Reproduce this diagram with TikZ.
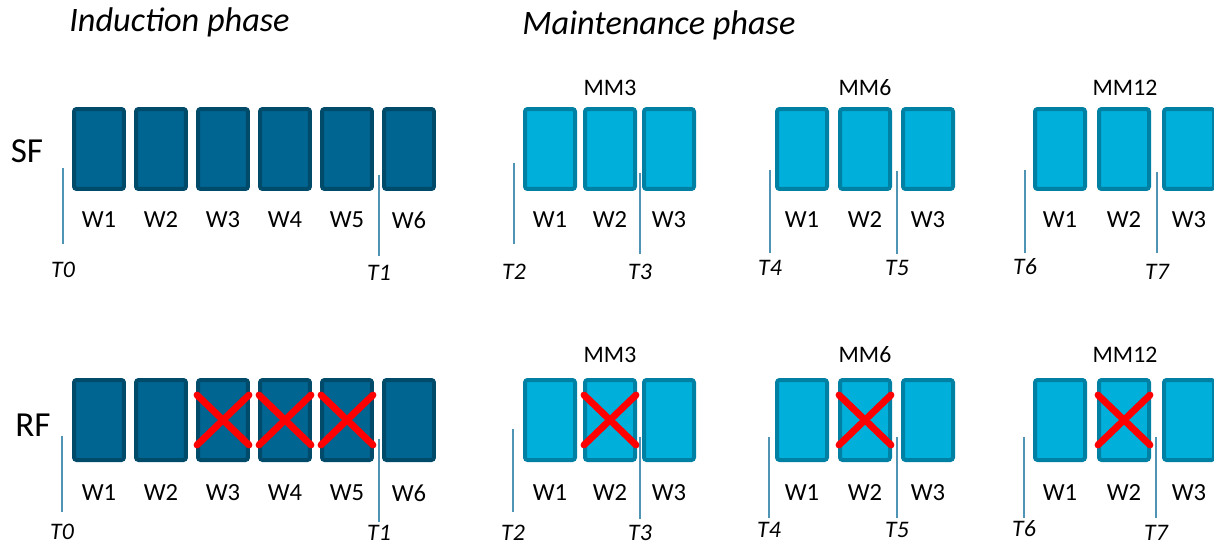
\documentclass[tikz,border=0pt]{standalone}
\usepackage{fontspec}
\setmainfont{Carlito}
\usetikzlibrary{calc}

\definecolor{induct}{RGB}{0,101,145}
\definecolor{inductedge}{RGB}{0,74,106}
\definecolor{maint}{RGB}{0,176,219}
\definecolor{maintedge}{RGB}{0,128,163}
\definecolor{tickline}{RGB}{79,147,181}

\tikzset{
  week/.style={rectangle, rounded corners=1.5pt, line width=0.08cm,
    minimum width=1.0cm, minimum height=1.6cm, inner sep=0pt},
  indweek/.style={week, fill=induct, draw=inductedge},
  mntweek/.style={week, fill=maint, draw=maintedge},
  phase/.style={font=\fontsize{19.5}{22}\selectfont\itshape, inner sep=0pt},
  group/.style={font=\fontsize{20}{22}\selectfont, inner sep=0pt},
  wlabel/.style={font=\fontsize{14}{16}\selectfont, inner sep=0pt},
  mmlabel/.style={font=\fontsize{13.5}{16}\selectfont, inner sep=0pt},
  tlabel/.style={font=\fontsize{13.5}{16}\selectfont\itshape, inner sep=0pt},
  tick/.style={draw=tickline, line width=0.85pt},
  cross/.style={draw=red, line width=3.9pt, line cap=round}
}

\begin{document}
\begin{tikzpicture}[x=0.02cm, y=-0.02cm]

  \useasboundingbox (0,0) rectangle (1214,545);
  \clip (0,0) rectangle (1214,545);

  % Phase titles
  \node[phase, anchor=west] (induction) at (69,22) {Induction phase};
  \node[phase, anchor=west] (maintenance) at (522,25) {Maintenance phase};

  % Groups
  \node[group] (sf) at (27,151) {SF};
  \node[group] (rf) at (33,425) {RF};

  % Induction weeks
  \foreach \i/\x in {1/99,2/161,3/223,4/285,5/347,6/409} {
    \node[indweek] (sfw\i) at (\x,149) {};
    \node[indweek] (rfw\i) at (\x,420) {};
    \node[wlabel] (sfl\i) at (\x,220) {W\i};
    \node[wlabel] (rfl\i) at (\x,493) {W\i};
  }

  % Maintenance weeks
  \foreach \m/\a/\b/\c/\lx in {3/550/610/669/610, 6/802/865/928/865, 12/1060/1124/1189/1125} {
    \node[mmlabel] (sfmm\m) at (\lx,88) {MM\m};
    \node[mmlabel] (rfmm\m) at (\lx,355) {MM\m};
    \foreach \j/\x in {1/\a,2/\b,3/\c} {
      \node[mntweek] (sm\m w\j) at (\x,149) {};
      \node[mntweek] (rm\m w\j) at (\x,420) {};
      \node[wlabel] (sm\m l\j) at (\x,220) {W\j};
      \node[wlabel] (rm\m l\j) at (\x,493) {W\j};
    }
  }

  % Time points, SF row
  \foreach \n/\x/\ya/\yb/\yl in {0/63/168/244/270, 1/379/175/256/273,
      2/514/163/244/272, 3/640/173/254/272, 4/770/170/253/268,
      5/897/171/254/268, 6/1025/170/253/267, 7/1157/172/253/272} {
    \coordinate (st\n a) at (\x,\ya);
    \coordinate (st\n b) at (\x,\yb);
    \draw[tick] (st\n a) -- (st\n b);
    \node[tlabel] (sT\n) at (\x,\yl) {T\n};
  }

  % Time points, RF row
  \foreach \n/\x/\ya/\yb/\yl in {0/62/436/512/532, 1/379/439/522/533,
      2/513/429/512/533, 3/640/437/519/533, 4/769/437/518/530,
      5/897/437/518/530, 6/1024/437/518/529, 7/1156/437/518/533} {
    \coordinate (rt\n a) at (\x,\ya);
    \coordinate (rt\n b) at (\x,\yb);
    \draw[tick] (rt\n a) -- (rt\n b);
    \node[tlabel] (rT\n) at (\x,\yl) {T\n};
  }

  % Missed weeks
  \foreach \b in {rfw3,rfw4,rfw5,rm3w2,rm6w2,rm12w2} {
    \draw[cross] ($(\b.center)+(-26,-25)$) -- ($(\b.center)+(26,25)$);
    \draw[cross] ($(\b.center)+(-26,25)$) -- ($(\b.center)+(26,-25)$);
  }

\end{tikzpicture}
\end{document}
